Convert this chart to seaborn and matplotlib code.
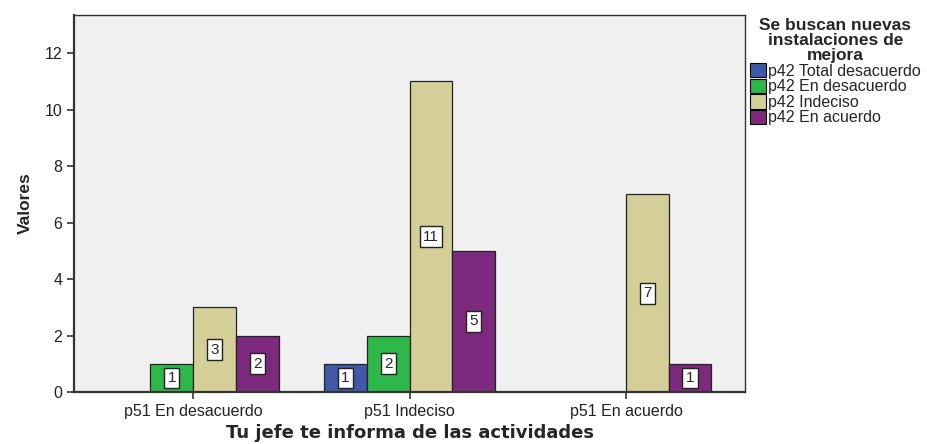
import pandas as pd
import matplotlib
matplotlib.use('Agg')
import matplotlib.pyplot as plt
import seaborn as sns

# Data
categorias = ['p51 En desacuerdo', 'p51 Indeciso', 'p51 En acuerdo']
series = ['p42 Total desacuerdo', 'p42 En desacuerdo', 'p42 Indeciso', 'p42 En acuerdo']
total_desacuerdo = [0, 1, 0]
en_desacuerdo = [1, 2, 0]
indeciso = [3, 11, 7]
en_acuerdo = [2, 5, 1]
colores = ['#3f58a8', '#2eb84a', '#d4cf98', '#7d2a7e']

valores = [total_desacuerdo, en_desacuerdo, indeciso, en_acuerdo]
rows = []
for s, vals in zip(series, valores):
    for c, v in zip(categorias, vals):
        rows.append({'cat': c, 'serie': s, 'valor': v})
df = pd.DataFrame(rows)

sns.set_style('white')
plt.rcParams['font.family'] = ['Liberation Sans', 'DejaVu Sans']

fig = plt.figure(figsize=(9.27, 4.44), dpi=100)
ax = fig.add_axes([0.0798, 0.117, 0.7239, 0.849])
ax.set_facecolor('#f0f0f0')

sns.barplot(data=df, x='cat', y='valor', hue='serie', order=categorias,
            hue_order=series, palette=colores, saturation=1, width=0.79,
            edgecolor='#222222', linewidth=0.9, ax=ax, legend=True)

# Value labels in white boxes (skip zeros)
for cont in ax.containers:
    labels = ['' if b.get_height() == 0 else '%d' % b.get_height() for b in cont]
    ax.bar_label(cont, labels=labels, label_type='center', fontsize=11,
                 bbox=dict(boxstyle='square,pad=0.22', fc='white', ec='#222222', lw=1.0))

ax.set_ylim(0, 13.35)
ax.set_xlim(-0.55, 2.55)
ax.set_yticks([0, 2, 4, 6, 8, 10, 12])
ax.tick_params(axis='both', direction='out', length=5, width=1.2, labelsize=11.5,
               color='#333333', labelcolor='#222222', bottom=True, left=True)
for sp in ax.spines.values():
    sp.set_color('#333333')
    sp.set_linewidth(1.0)
ax.spines['left'].set_linewidth(1.6)
ax.spines['bottom'].set_linewidth(1.6)

ax.set_ylabel('Valores', fontsize=12.5, fontweight='bold', labelpad=8)
ax.set_xlabel('Tu jefe te informa de las actividades', fontsize=13,
              fontweight='bold', labelpad=4, family=['DejaVu Sans'])

leg = ax.legend(title='Se buscan nuevas\ninstalaciones de\nmejora',
                loc='upper left', bbox_to_anchor=(1.0, 1.005), frameon=False,
                fontsize=11.5, handlelength=1.0, handleheight=1.0,
                handletextpad=0.15, borderaxespad=0.1, labelspacing=0.0,
                borderpad=0.2)
leg.get_title().set_fontweight('bold')
leg.get_title().set_fontsize(12.5)
leg.get_title().set_multialignment('center')
leg.get_title().set_linespacing(1.0)
leg._legend_box.align = 'center'
for h in leg.legend_handles:
    h.set_edgecolor('black')
    h.set_linewidth(0.8)

fig.savefig('out.png', dpi=100)
